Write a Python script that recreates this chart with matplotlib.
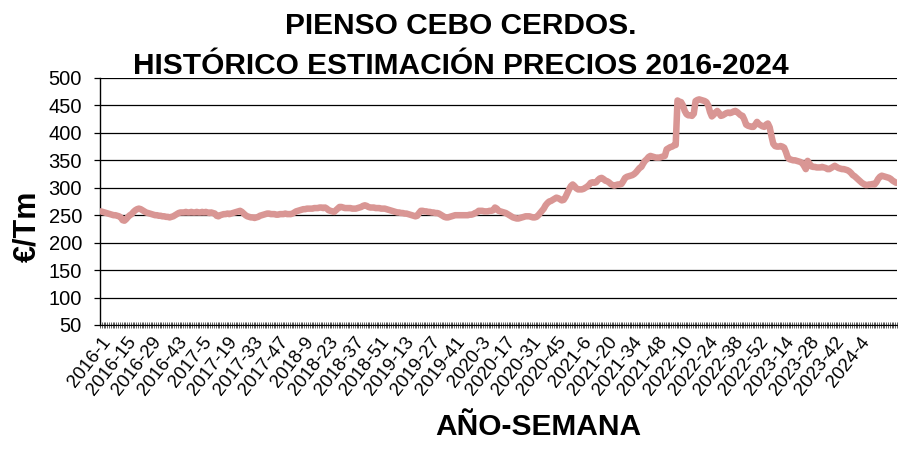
import numpy as np
import matplotlib
matplotlib.use("Agg")
import matplotlib.pyplot as plt

# weeks per year shown on the category axis
years = [2016, 2017, 2018, 2019, 2020, 2021, 2022, 2023, 2024]
weeks_per_year = [52, 52, 52, 52, 53, 52, 52, 52, 24]

# estimated feed price (EUR/Tm), one value per week
p2016 = [257, 256, 255, 254, 253, 252, 251, 250, 250, 249, 248, 246,
         241, 240, 243, 247, 250, 252, 256, 259, 261,
         262, 261, 259, 257, 255, 254, 253, 252, 251,
         250, 250, 249, 249, 248, 248, 247, 247, 246, 247,
         248, 250, 252, 254, 255, 255, 255, 256, 255, 255, 256, 255]
p2017 = [255, 256, 255, 255, 256, 255, 256, 255, 254, 255, 254, 253,
         249, 248, 250, 251, 252, 252, 253, 252, 253, 254, 255, 256,
         257, 258, 256, 253, 250, 248, 247, 246, 246, 245, 246, 247,
         249, 250, 251, 252, 253, 253, 252, 252, 252, 251, 251, 252, 252, 252, 253, 252]
p2018 = [252, 252, 253, 255, 257, 258, 259, 260, 261, 261, 262, 262,
         262, 262, 263, 263, 263, 264, 264, 263, 264, 262, 259, 258,
         257, 256, 259, 262, 265, 265, 264, 263, 263, 263, 263, 262,
         262, 262, 263, 264, 265, 267, 268, 267, 265, 264, 264, 264, 263, 263, 263, 262]
p2019 = [262, 262, 261, 260, 259, 258, 257, 256, 255, 255, 254, 254,
         253, 253, 252, 251, 250, 249, 248, 249, 254, 258, 258, 257,
         257, 256, 256, 255, 255, 254, 254, 253, 251, 249, 247, 246,
         246, 247, 248, 249, 250, 250, 250, 250, 250, 250, 250, 250, 251, 251, 252, 254]
p2020 = [255, 258, 258, 258, 257, 257, 257, 258, 258, 259, 264, 262,
         258, 257, 256, 255, 254, 252, 250, 248, 246, 245, 244, 244,
         245, 246, 247, 248, 248, 248, 247, 246, 246, 247, 250, 254,
         258, 262, 268, 272, 275, 276, 278, 280, 282, 281, 279, 277, 278, 283, 290, 297, 303]
p2021 = [306, 303, 299, 297, 297, 297, 298, 300, 302, 305, 309, 310,
         309, 310, 314, 317, 318, 316, 313, 312, 310, 307, 305, 304,
         305, 306, 306, 307, 312, 318, 320, 321, 322, 323, 325, 328,
         332, 336, 338, 344, 349, 352, 356, 358, 357, 356, 355, 355, 355, 356, 357, 358]
p2022 = [370, 372, 374, 375, 377, 378, 459, 457, 456, 450, 440, 434,
         432, 432, 431, 435, 458, 460, 461, 460, 459, 458, 456, 450,
         438, 430, 433, 437, 440, 436, 431, 432, 434, 436, 437, 436,
         437, 439, 440, 438, 435, 432, 431, 424, 415, 413, 412, 411, 411, 415, 420, 416]
p2023 = [414, 412, 411, 415, 417, 410, 394, 380, 376, 375, 375, 376,
         375, 373, 365, 355, 352, 351, 350, 350, 349, 348, 347, 345,
         340, 334, 349, 344, 339, 338, 338, 337, 337, 337, 338, 337,
         336, 334, 334, 336, 338, 340, 338, 336, 335, 334, 334, 333, 332, 330, 327, 323]
p2024 = [321, 318, 315, 312, 309, 307, 305, 305, 306, 306, 307, 306,
         310, 316, 320, 322, 321, 320, 319, 318, 316, 313, 311, 309]

prices = p2016 + p2017 + p2018 + p2019 + p2020 + p2021 + p2022 + p2023 + p2024
labels = [f"{y}-{w}" for y, n in zip(years, weeks_per_year) for w in range(1, n + 1)]

plt.rcParams['font.family'] = ['Liberation Sans', 'DejaVu Sans']

fig = plt.figure(figsize=(8.98, 4.5), dpi=100)
ax = fig.add_axes([0.1114, 0.2778, 0.8876, 0.5489])

x = np.arange(len(prices))
ax.plot(x, prices, color='#D99694', linewidth=4.7, solid_capstyle='round', zorder=3)

ax.set_xlim(-0.5, len(prices) - 0.5)
ax.set_ylim(50, 500)
ax.set_yticks(np.arange(50, 501, 50))
ax.yaxis.grid(True, color='black', linewidth=0.9)
ax.set_axisbelow(True)

# label every 14th week (the last partial step has no label)
lab_idx = x[:421:14]
ax.set_xticks(lab_idx)
ax.set_xticklabels([labels[i] for i in lab_idx], rotation=52, ha='right',
                   rotation_mode='anchor', fontsize=13.5)
ax.set_xticks(np.arange(-0.5, len(prices), 1), minor=True)
ax.tick_params(axis='x', which='major', length=0, pad=6)
ax.tick_params(axis='x', which='minor', direction='inout', length=5, width=0.6, color='#444444')
ax.tick_params(axis='y', direction='out', length=4, width=0.9, labelsize=14.5, pad=9)

for s in ['top', 'right']:
    ax.spines[s].set_visible(False)
ax.spines['left'].set_linewidth(1)
ax.spines['bottom'].set_linewidth(0.8)

fig.text(0.5134, 0.9244, "PIENSO CEBO CERDOS.", ha='center', va='baseline',
         fontsize=21.5, fontweight='bold')
fig.text(0.5134, 0.8356, "HISTÓRICO ESTIMACIÓN PRECIOS 2016-2024", ha='center', va='baseline',
         fontsize=21.5, fontweight='bold')
fig.text(0.031, 0.498, "€/Tm", rotation=90, ha='center', va='center', fontsize=22, fontweight='bold')
fig.text(0.599, 0.051, "AÑO-SEMANA", ha='center', va='center', fontsize=21.5, fontweight='bold')

fig.savefig("out.png", dpi=100)
